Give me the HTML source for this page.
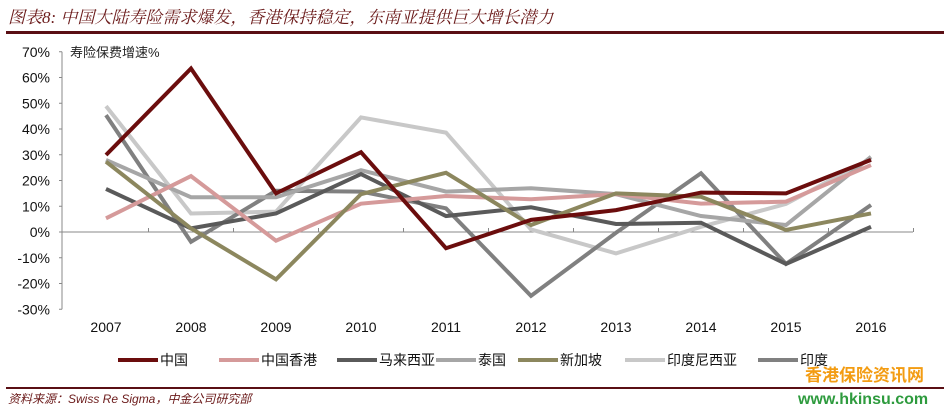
<!DOCTYPE html>
<html><head><meta charset="utf-8"><style>
body{margin:0;background:#fff;width:946px;height:409px;overflow:hidden;font-family:"Liberation Sans","Noto Sans CJK SC",sans-serif;}
</style></head><body>
<svg width="946" height="409">
<text x="8" y="23" font-size="17" font-style="italic" fill="#6b1a1a" font-family="Liberation Serif,'Noto Serif CJK SC',serif">图表8: 中国大陆寿险需求爆发，香港保持稳定，东南亚提供巨大增长潜力</text>
<rect x="6" y="31" width="938" height="3" fill="#5a0f14"/>
<text x="70" y="57" font-size="13" fill="#222">寿险保费增速%</text>
<g id="axes"></g>
<g id="series"></g>
<g id="legend"></g>
<rect x="6" y="387" width="938" height="2" fill="#5a0f14"/>
<text x="8" y="403" font-size="12" font-style="italic" fill="#6b1a1a">资料来源：Swiss Re Sigma，中金公司研究部</text>
<text x="805" y="381" font-size="17" font-weight="bold" fill="#f39c12">香港保险资讯网</text>
<text x="798" y="404" font-size="16" font-weight="bold" fill="#2e9b3e">www.hkinsu.com</text>
</svg>
<script>
const years=["2007","2008","2009","2010","2011","2012","2013","2014","2015","2016"];
const yTicks=[70,60,50,40,30,20,10,0,-10,-20,-30];
const names=["中国","中国香港","马来西亚","泰国","新加坡","印度尼西亚","印度"];
const colors=["#6b0d0d","#d59a9a","#5a5a5a","#a6a6a6","#8c875e","#c8c8c8","#808080"];
const china=[29.9,63.5,15,31,-6.3,4.7,8.5,15.3,15,28];
const hongkong=[5.3,21.7,-3.4,11,14,12.7,14.7,11,11.8,26];
const malaysia=[16.7,1.4,7.2,22.5,6.2,9.6,3.1,3.6,-12.4,2];
const thailand=[28,13.5,13.5,24,15.7,17,14.7,6.2,2.7,29.2];
const singapore=[27.3,1.4,-18.4,14.7,23,2.7,15,13.7,0.8,7.2];
const indonesia=[48.9,7.2,7.9,44.5,38.6,1,-8.3,2,10.9,28.6];
const india=[45.4,-3.8,16,15.7,9.2,-24.8,-0.3,22.8,-12.4,10.5];
const series=[china,hongkong,malaysia,thailand,singapore,indonesia,india];
const NS="http://www.w3.org/2000/svg";
const y0=232,per=25.75,x0=106,step=85;
const Y=v=>y0-v/10*per, X=i=>x0+i*step;
function mk(t,a,p){const e=document.createElementNS(NS,t);for(const k in a)e.setAttribute(k,a[k]);p.appendChild(e);return e;}
const ax=document.getElementById('axes');
let l=mk('line',{x1:62,y1:Y(70),x2:62,y2:Y(-30),stroke:'#888'},ax);


l=mk('line',{x1:62,y1:y0,x2:913,y2:y0,stroke:'#888'},ax);


yTicks.forEach(v=>{
 mk('line',{x1:59,y1:Y(v),x2:62,y2:Y(v),stroke:'#888'},ax);
 const t=mk('text',{x:50,y:Y(v)+5,'text-anchor':'end','font-size':14,fill:'#111'},ax);
 t.textContent=v+'%';
 
 
});
years.forEach((y,i)=>{
 mk('line',{x1:X(i)+step/2,y1:y0-4,x2:X(i)+step/2,y2:y0,stroke:'#888'},ax);
 const t=mk('text',{x:X(i),y:332,'text-anchor':'middle','font-size':14,fill:'#111'},ax);
 t.textContent=y;
 
 
});
const sg=document.getElementById('series');
[5,6,3,2,1,4,0].forEach(k=>{
 const p=mk('polyline',{points:series[k].map((v,i)=>X(i)+','+Y(v)).join(' '),fill:'none',stroke:colors[k],'stroke-width':4,'stroke-linejoin':'miter'},sg);
 
 
});
const lg=document.getElementById('legend');
const lx=[118,219,337,436,518,625,758];
names.forEach((n,k)=>{
 const g=mk('g',{},lg);
 
 
 mk('line',{x1:lx[k],y1:360,x2:lx[k]+40,y2:360,stroke:colors[k],'stroke-width':4},g);
 const t=mk('text',{x:lx[k]+42,y:365,'font-size':14,fill:'#111'},g);
 t.textContent=n;
});
</script>
</body></html>
